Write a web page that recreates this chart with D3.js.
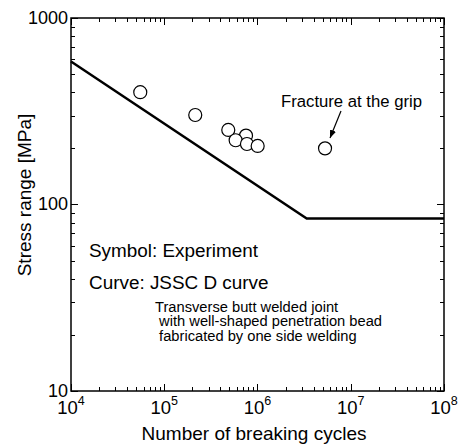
<!DOCTYPE html>
<html>
<head>
<meta charset="utf-8">
<script src="https://cdn.jsdelivr.net/npm/d3@7"></script>
<style>
  body { margin: 0; background: #fff; }
  text { font-family: "Liberation Sans", Arial, sans-serif; fill: #000; }
</style>
</head>
<body>
<div class="chart"></div>
<script>
// experiment points: cycles, stress range (MPa)
var cycles = [55300, 215000, 486000, 753000, 583000, 771000, 1004000, 5300000];
var stress = [400, 302, 251, 234, 221, 211, 206, 200];

// JSSC D curve (m=3, 100 MPa at 2e6, cut-off 84 MPa)
var curveN = [1e4, 3.37e6, 1e8];
var curveS = [584.8, 84, 84];

var xTicks = [1e4, 1e5, 1e6, 1e7, 1e8];
var xTickExp = ["4", "5", "6", "7", "8"];
var yTicks = [10, 100, 1000];
var yTickLabels = ["10", "100", "1000"];

var w = 463, h = 444;
var pL = 71, pR = 444, pT = 18, pB = 391;

var svg = d3.select(".chart")
            .append("svg")
            .attr("width", w)
            .attr("height", h);

var x = d3.scaleLog().domain([1e4, 1e8]).range([pL, pR]);
var y = d3.scaleLog().domain([10, 1000]).range([pB, pT]);

// minor ticks 2..9 per decade
var xMinor = [], yMinor = [];
for (var e = 4; e < 8; e++) for (var k = 2; k <= 9; k++) xMinor.push(k * Math.pow(10, e));
for (var e2 = 1; e2 < 3; e2++) for (var k2 = 2; k2 <= 9; k2++) yMinor.push(k2 * Math.pow(10, e2));

var ax = svg.append("g").attr("stroke", "#000").attr("stroke-width", 1);

function ticksX(vals, len) {
  vals.forEach(function(v) {
    var px = Math.round(x(v)) + 0.5;
    ax.append("line").attr("x1", px).attr("x2", px).attr("y1", pB).attr("y2", pB - len);
    ax.append("line").attr("x1", px).attr("x2", px).attr("y1", pT).attr("y2", pT + len);
  });
}
function ticksY(vals, len) {
  vals.forEach(function(v) {
    var py = Math.round(y(v)) + 0.5;
    ax.append("line").attr("x1", pL).attr("x2", pL + len).attr("y1", py).attr("y2", py);
    ax.append("line").attr("x1", pR).attr("x2", pR - len).attr("y1", py).attr("y2", py);
  });
}
ticksX(xMinor, 4);
ticksX(xTicks, 7);
ticksY(yMinor, 4);
ticksY(yTicks, 7);

svg.append("rect")
   .attr("x", pL).attr("y", pT)
   .attr("width", pR - pL).attr("height", pB - pT)
   .attr("fill", "none").attr("stroke", "#000").attr("stroke-width", 1.5);

// y tick labels
svg.selectAll(".ylab").data(yTicks).enter().append("text")
   .attr("class", "ylab")
   .attr("x", pL - 3)
   .attr("y", function(d) { return y(d) + 5.5; })
   .attr("text-anchor", "end")
   .attr("font-size", 18)
   .text(function(d, i) { return yTickLabels[i]; });

// x tick labels 10^n
var xl = svg.selectAll(".xlab").data(xTicks).enter().append("text")
   .attr("class", "xlab")
   .attr("x", function(d) { return x(d); })
   .attr("y", 414)
   .attr("text-anchor", "middle")
   .attr("font-size", 18.5);
xl.append("tspan").text("10");
xl.append("tspan").attr("dy", -9).attr("font-size", 12.5).text(function(d, i) { return xTickExp[i]; });

svg.append("text")
   .attr("x", 254).attr("y", 440)
   .attr("text-anchor", "middle")
   .attr("font-size", 19)
   .text("Number of breaking cycles");

svg.append("text")
   .attr("transform", "translate(31,195) rotate(-90)")
   .attr("text-anchor", "middle")
   .attr("font-size", 19)
   .text("Stress range [MPa]");

// design curve
var line = d3.line()
  .x(function(d) { return x(d[0]); })
  .y(function(d) { return y(d[1]); });
svg.append("path")
   .datum(curveN.map(function(n, i) { return [n, curveS[i]]; }))
   .attr("d", line)
   .attr("fill", "none")
   .attr("stroke", "#000")
   .attr("stroke-width", 2.5);

// experiment circles
svg.selectAll(".pt").data(cycles).enter().append("circle")
   .attr("class", "pt")
   .attr("cx", function(d) { return x(d); })
   .attr("cy", function(d, i) { return y(stress[i]); })
   .attr("r", 6.5)
   .attr("fill", "#fff")
   .attr("stroke", "#000")
   .attr("stroke-width", 1.2);

// annotation
svg.append("text")
   .attr("x", 281).attr("y", 107)
   .attr("font-size", 16.7)
   .text("Fracture at the grip");

svg.append("defs").append("marker")
   .attr("id", "arr")
   .attr("viewBox", "0 0 10 10")
   .attr("refX", 10).attr("refY", 5)
   .attr("markerWidth", 8).attr("markerHeight", 8)
   .attr("markerUnits", "userSpaceOnUse")
   .attr("orient", "auto")
   .append("path").attr("d", "M0,1 L10,5 L0,9 z").attr("fill", "#000");

svg.append("line")
   .attr("x1", 341).attr("y1", 111)
   .attr("x2", 330).attr("y2", 138)
   .attr("stroke", "#000").attr("stroke-width", 1.2)
   .attr("marker-end", "url(#arr)");

svg.append("text").attr("x", 89).attr("y", 257).attr("font-size", 18.9).text("Symbol: Experiment");
svg.append("text").attr("x", 89).attr("y", 289).attr("font-size", 18.9).text("Curve: JSSC D curve");

var notes = ["Transverse butt welded joint", " with well-shaped penetration bead", " fabricated by one side welding"];
svg.selectAll(".note").data(notes).enter().append("text")
   .attr("class", "note")
   .attr("x", 155)
   .attr("y", function(d, i) { return 311.5 + i * 14.5; })
   .attr("font-size", 14.7)
   .attr("xml:space", "preserve")
   .style("white-space", "pre")
   .text(function(d) { return d; });
</script>
</body>
</html>
